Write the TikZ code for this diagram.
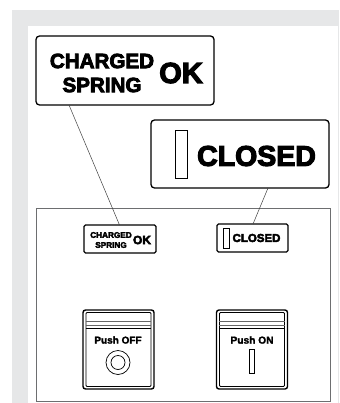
\documentclass[tikz,border=0pt]{standalone}
\usepackage{fontspec}
\setmainfont{Liberation Sans}
\newfontfamily\heavy[FakeBold=4]{Liberation Sans Bold}
\newfontfamily\semi[FakeBold=2]{Liberation Sans Bold}
\definecolor{bandgrey}{HTML}{E6E7E8}
\definecolor{panelgrey}{HTML}{6D6E70}
\tikzset{
  labelbox/.style={draw=black,fill=white,line width=1.3pt,rounded corners=3.5pt,inner sep=0pt},
  smallbox/.style={draw=black,fill=white,line width=1.1pt,rounded corners=1.5pt,inner sep=0pt},
  leader/.style={draw=black!75,line width=0.5pt},
  window/.style={draw=black,line width=0.7pt,fill=white},
  txt/.style={inner sep=0pt,text=black},
  btnouter/.style={draw=black,line width=1.4pt,rounded corners=2.5pt},
  btninner/.style={draw=black,line width=0.8pt,rounded corners=1pt},
  stripe/.style={draw=black!60,line width=0.8pt}
}
\begin{document}
\begin{tikzpicture}[x=1pt,y=-1pt]
\useasboundingbox (0,0) rectangle (339,403);
\fill[white] (0,0) rectangle (339,403);
\fill[bandgrey] (12,10) rectangle (339,403);
\fill[white] (28,26) rectangle (337.5,403);
% panel
\node[draw=panelgrey,line width=0.8pt,fill=white,minimum width=294pt,minimum height=193pt,inner sep=0pt,anchor=north west] (panel) at (36,208) {};
% small labels
\node[smallbox,minimum width=72pt,minimum height=28pt] (smallA) at (120,239) {};
\node[smallbox,minimum width=71pt,minimum height=28pt] (smallB) at (252.5,238) {};
% big labels
\node[labelbox,minimum width=178pt,minimum height=69pt] (bigA) at (125,70.5) {};
\node[labelbox,minimum width=178pt,minimum height=68pt] (bigB) at (240,154) {};
% leaders
\coordinate (a1) at (69,105);
\coordinate (a2) at (119.5,225);
\coordinate (b1) at (268,188);
\coordinate (b2) at (253,224);
\draw[leader] (a1) -- (a2);
\draw[leader] (b1) -- (b2);
% big texts
\node[txt,font=\heavy\fontsize{20.6}{20.6}\selectfont] (tA1) at (102,61) {CHARGED};
\node[txt,font=\heavy\fontsize{20.6}{20.6}\selectfont] (tA2) at (102,85) {SPRING};
\node[txt,font=\heavy\fontsize{29}{29}\selectfont] (tA3) at (181,73) {OK};
\node[window,minimum width=12pt,minimum height=48pt,inner sep=0pt] (winB) at (181.5,154.5) {};
\node[txt,font=\heavy\fontsize{28.5}{28.5}\selectfont] (tB) at (256.5,156) {CLOSED};
% small texts
\node[txt,font=\heavy\fontsize{8.2}{8.2}\selectfont] (sA1) at (111,235) {CHARGED};
\node[txt,font=\heavy\fontsize{8.2}{8.2}\selectfont] (sA2) at (111,245) {SPRING};
\node[txt,font=\heavy\fontsize{12}{12}\selectfont] (sA3) at (142,240) {OK};
\node[window,minimum width=5.5pt,minimum height=20pt,inner sep=0pt] (sWin) at (226.5,238) {};
\node[txt,font=\heavy\fontsize{11.5}{11.5}\selectfont] (sB) at (256.5,238) {CLOSED};
% button OFF
\node[btnouter,minimum width=71pt,minimum height=79pt,inner sep=0pt] (offO) at (118.5,349.5) {};
\node[btninner,minimum width=65pt,minimum height=74pt,inner sep=0pt] (offI) at (118.5,349.5) {};
\draw[stripe] (offI.west |- 0,321) -- (offI.east |- 0,321);
\draw[stripe] (offI.west |- 0,325) -- (offI.east |- 0,325);
\draw[draw=black,line width=0.8pt] (offI.west |- 0,328) -- (offI.east |- 0,328);
\node[txt,font=\semi\fontsize{10}{10}\selectfont] (offT) at (118,340) {Push OFF};
\node[draw=black,line width=0.7pt,circle,minimum size=24pt,inner sep=0pt] (offC1) at (118,362.5) {};
\node[draw=black,line width=0.7pt,circle,minimum size=14pt,inner sep=0pt] (offC2) at (118,362.5) {};
% button ON
\node[btnouter,minimum width=71pt,minimum height=79pt,inner sep=0pt] (onO) at (252,349.5) {};
\node[btninner,minimum width=65pt,minimum height=74pt,inner sep=0pt] (onI) at (252,349.5) {};
\draw[stripe] (onI.west |- 0,321) -- (onI.east |- 0,321);
\draw[stripe] (onI.west |- 0,325) -- (onI.east |- 0,325);
\draw[draw=black,line width=0.8pt] (onI.west |- 0,328) -- (onI.east |- 0,328);
\node[txt,font=\semi\fontsize{10.2}{10.2}\selectfont] (onT) at (252,340) {Push ON};
\node[window,line width=0.6pt,minimum width=5.5pt,minimum height=24pt,inner sep=0pt] (onW) at (252,361) {};
\end{tikzpicture}
\end{document}
